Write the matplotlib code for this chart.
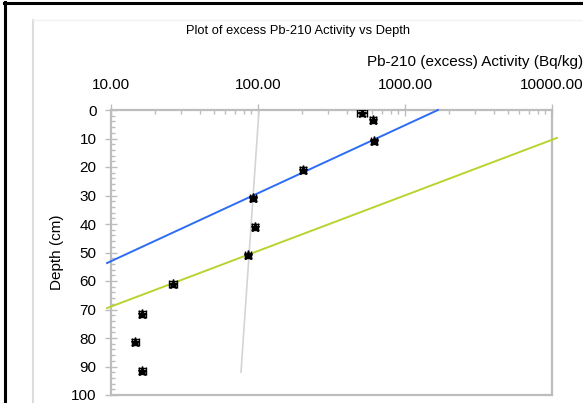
import numpy as np
import matplotlib
matplotlib.use("Agg")
import matplotlib.pyplot as plt
from matplotlib.lines import Line2D
from matplotlib.ticker import FixedLocator, FormatStrFormatter, LogLocator

plt.rcParams['font.family'] = ['Liberation Sans', 'DejaVu Sans']

# measured excess Pb-210 activity (Bq/kg) and depth (cm)
activity = [509, 606, 615, 202, 92.5, 95.5, 85.5, 26.4, 16.3, 14.6, 16.3]
depth = [1.0, 3.5, 11.0, 21.0, 31.0, 41.0, 51.0, 61.0, 71.5, 81.5, 91.5]
activity_err = [40, 30, 30, 10, 4, 4, 4, 1.5, 0.9, 0.8, 0.9]
depth_err = [1.0] * len(depth)

# fitted lines (end points)
blue_x = [9.4, 1675]
blue_depth = [53.7, 0]
green_x = [9.4, 10800]
green_depth = [69.5, 9.8]
gray_x = [101.6, 76.6]
gray_depth = [0, 92]

x_ticks = [10, 100, 1000, 10000]
y_ticks = list(range(0, 101, 10))

W, H = 583, 403
fig = plt.figure(figsize=(W / 100, H / 100), dpi=100)
ax = fig.add_axes([111 / W, 1 - 395 / H, (552 - 111) / W, (395 - 110) / H])

axis_gray = '#bdbdbd'

ax.plot(gray_x, gray_depth, color='#d4d4d4', lw=1.2, clip_on=False, zorder=2)
ax.plot(blue_x, blue_depth, color='#2d6cf5', lw=1.4, clip_on=False, zorder=3)
ax.plot(green_x, green_depth, color='#b8d42e', lw=1.4, clip_on=False, zorder=3)

ax.errorbar(activity, depth, xerr=[np.array(activity_err), np.array(activity_err)],
            yerr=depth_err, fmt='*', color='black', ms=6.5, elinewidth=1.0,
            capsize=3, capthick=1.0, zorder=5)

ax.set_xscale('log')
ax.set_xlim(10, 10000)
ax.set_ylim(100, 0)
ax.xaxis.set_ticks_position('top')
ax.xaxis.set_label_position('top')
ax.xaxis.set_major_locator(FixedLocator(x_ticks))
ax.xaxis.set_minor_locator(LogLocator(base=10, subs=np.arange(2, 10)))
ax.xaxis.set_major_formatter(FormatStrFormatter('%.2f'))
ax.set_yticks(y_ticks)
ax.yaxis.set_minor_locator(FixedLocator(np.arange(0, 101, 2)))

for s in ['top', 'left', 'right', 'bottom']:
    ax.spines[s].set_color(axis_gray)
    ax.spines[s].set_linewidth(1.6)

ax.tick_params(axis='x', which='major', direction='inout', length=8, width=1,
               color=axis_gray, labelsize=11, pad=9)
ax.tick_params(axis='x', which='minor', direction='in', length=3, width=1,
               color=axis_gray)
ax.tick_params(axis='y', which='major', direction='inout', length=9, width=1,
               color=axis_gray, labelsize=11, pad=6)
ax.tick_params(axis='y', which='minor', direction='in', length=3, width=1,
               color=axis_gray)
ax.tick_params(right=False, which='both')

fig.text(298 / W, 1 - 31 / H, 'Plot of excess Pb-210 Activity vs Depth',
         ha='center', va='center', fontsize=9.3)
fig.text(583 / W, 1 - 62 / H, 'Pb-210 (excess) Activity (Bq/kg)',
         ha='right', va='center', fontsize=11)
fig.text(57 / W, 1 - 252 / H, 'Depth (cm)', rotation=90,
         ha='center', va='center', fontsize=11)

# sheet frame around the embedded chart
fig.add_artist(Line2D([5 / W, 5 / W], [0, 1 - 2 / H], color='black', lw=2.2,
                      transform=fig.transFigure))
fig.add_artist(Line2D([4 / W, 1], [1 - 3 / H, 1 - 3 / H], color='black', lw=2.2,
                      transform=fig.transFigure))
fig.add_artist(Line2D([33 / W, 33 / W], [0, 1 - 20 / H], color='#dcdcdc', lw=1.5,
                      transform=fig.transFigure))
fig.add_artist(Line2D([33 / W, 1], [1 - 20 / H, 1 - 20 / H], color='#f2f2f2', lw=1.0,
                      transform=fig.transFigure))

fig.savefig('out.png', dpi=100)
